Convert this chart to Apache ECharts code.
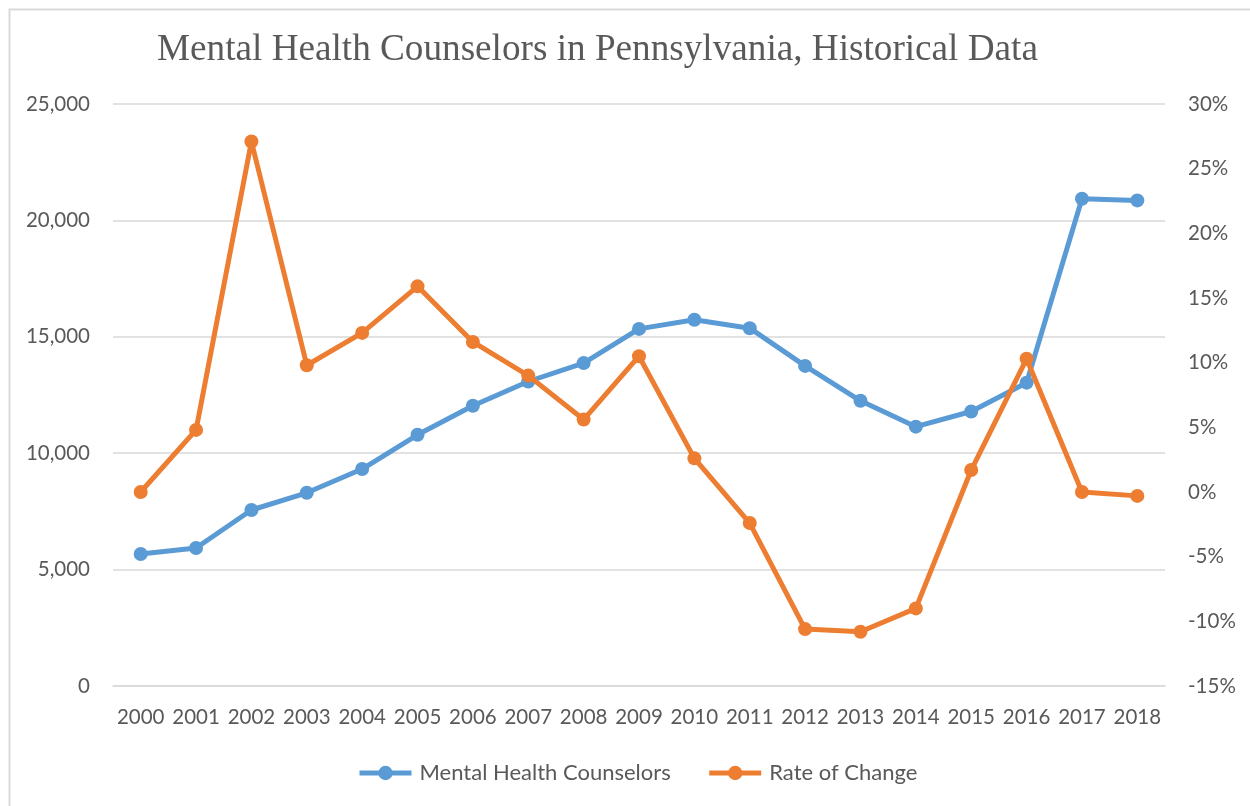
<!DOCTYPE html>
<html>
<head>
<meta charset="utf-8">
<script src="https://cdn.jsdelivr.net/npm/echarts@6/dist/echarts.min.js"></script>
<style>
html,body{margin:0;padding:0;background:#fff;}
#chart{width:1250px;height:806px;}
</style>
</head>
<body>
<div id="chart"></div>
<script>
const years = ['2000','2001','2002','2003','2004','2005','2006','2007','2008','2009','2010','2011','2012','2013','2014','2015','2016','2017','2018'];
const counselors = [5670,5930,7560,8300,9320,10790,12040,13080,13870,15340,15730,15370,13750,12250,11140,11790,13030,20930,20860];
const rateOfChange = [0.0,4.8,27.1,9.8,12.3,15.9,11.6,9.0,5.6,10.5,2.6,-2.4,-10.6,-10.8,-9.0,1.7,10.3,0.0,-0.3];
const leftTicks = {min:0, max:25000, interval:5000};
const rightTicks = {min:-15, max:30, interval:5};

const textColor = '#595959';
const labelFont = 'Lato, "Open Sans", sans-serif';

const chart = echarts.init(document.getElementById('chart'), null, {renderer:'canvas'});
chart.setOption({
  animation:false,
  backgroundColor:'#fff',
  graphic:[{
    type:'rect', left:7, top:7, shape:{x:0,y:0,width:1260,height:820},
    style:{fill:'none', stroke:'#d9d9d9', lineWidth:2}, z:-10
  }],
  title:{
    text:'Mental Health Counselors in Pennsylvania, Historical Data',
    left:152, top:27,
    textStyle:{fontFamily:'"Liberation Serif", "Times New Roman", serif', fontWeight:'normal', fontSize:37.2, color:textColor}
  },
  legend:{
    top:757, left:352,
    itemWidth:52, itemHeight:18, itemGap:36,
    lineStyle:{width:5},
    textStyle:{fontFamily:labelFont, fontSize:22, color:textColor, padding:[0,0,0,3]},
    data:['Mental Health Counselors','Rate of Change']
  },
  grid:{left:113, right:85, top:104, bottom:120, containLabel:false},
  xAxis:{
    type:'category', data:years, boundaryGap:true,
    axisLine:{show:true, lineStyle:{color:'#d9d9d9', width:1.5}},
    axisTick:{show:false},
    axisLabel:{interval:0, hideOverlap:false, margin:21, color:textColor, fontFamily:labelFont, fontSize:20.5}
  },
  yAxis:[{
    type:'value', min:leftTicks.min, max:leftTicks.max, interval:leftTicks.interval,
    axisLine:{show:false}, axisTick:{show:false},
    splitLine:{show:true, lineStyle:{color:'#d9d9d9', width:1.5}},
    axisLabel:{margin:23, color:textColor, fontFamily:labelFont, fontSize:20.5,
      formatter:v=>v.toLocaleString('en-US')}
  },{
    type:'value', min:rightTicks.min, max:rightTicks.max, interval:rightTicks.interval,
    axisLine:{show:false}, axisTick:{show:false}, splitLine:{show:false},
    axisLabel:{margin:23, color:textColor, fontFamily:labelFont, fontSize:20.5,
      formatter:v=>v+'%'}
  }],
  series:[{
    name:'Mental Health Counselors', type:'line', yAxisIndex:0, data:counselors,
    symbol:'circle', symbolSize:14, showAllSymbol:true,
    lineStyle:{color:'#5B9BD5', width:5}, itemStyle:{color:'#5B9BD5'}, z:2
  },{
    name:'Rate of Change', type:'line', yAxisIndex:1, data:rateOfChange,
    symbol:'circle', symbolSize:14, showAllSymbol:true,
    lineStyle:{color:'#ED7D31', width:5}, itemStyle:{color:'#ED7D31'}, z:3
  }]
});
</script>
</body>
</html>
